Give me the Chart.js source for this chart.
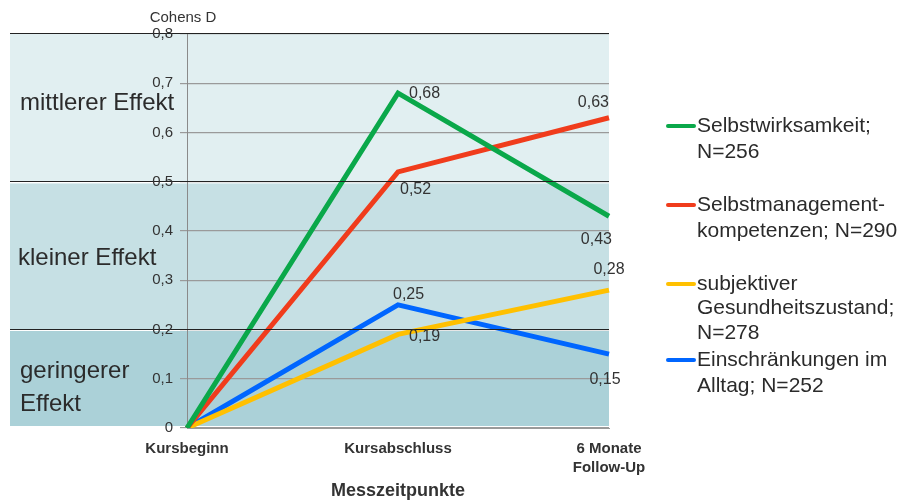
<!DOCTYPE html>
<html><head><meta charset="utf-8">
<script src="https://cdn.jsdelivr.net/npm/chart.js@4"></script>
<style>html,body{margin:0;padding:0;background:#fff;}canvas{display:block;}</style>
</head><body>
<canvas id="c" width="903" height="502"></canvas>
<script>
const categories = [["Kursbeginn"], ["Kursabschluss"], ["6 Monate", "Follow-Up"]];
const seriesNames = [["Selbstwirksamkeit;", "N=256"], ["Selbstmanagement-", "kompetenzen; N=290"], ["subjektiver", "Gesundheitszustand;", "N=278"], ["Einschränkungen im", "Alltag; N=252"]];
const selbstwirksamkeit = [0, 0.68, 0.43];
const selbstmanagement = [0, 0.52, 0.63];
const gesundheit = [0, 0.19, 0.28];
const einschraenkungen = [0, 0.25, 0.15];
const yTicks = [0, 0.1, 0.2, 0.3, 0.4, 0.5, 0.6, 0.7, 0.8];
const bands = [
  {from: 0.5, to: 0.8, label: ["mittlerer Effekt"]},
  {from: 0.2, to: 0.5, label: ["kleiner Effekt"]},
  {from: 0, to: 0.2, label: ["geringerer", "Effekt"]}
];
const colors = ["#0aa84a", "#f03c1c", "#ffc000", "#0066ff"];
const bandColors = ["#e1eff1", "#c6e0e4", "#abd1d8"];
const FONT = "'Liberation Sans', Arial, sans-serif";
const fmt = v => v === 0 ? "0" : v.toFixed(String(v).split(".")[1].length).replace(".", ",");

// label placement: [dx, dy, align]
const labelPlace = [
  [null, [11, 0, "left"], [3, 23, "right"]],
  [null, [2, 18, "left"], [0, -15, "right"]],
  [null, [11, 2, "left"], [0, -21, "center"]],
  [null, [-5, -10, "left"], [-4, 25, "center"]]
];

const bgPlugin = {
  id: "bg",
  beforeDraw(chart) {
    const ctx = chart.ctx, y = chart.scales.y, a = chart.chartArea;
    ctx.save();
    bands.forEach((b, i) => {
      const t = y.getPixelForValue(b.to), bt = y.getPixelForValue(b.from);
      ctx.fillStyle = bandColors[i];
      ctx.fillRect(10, t + (i ? 1.5 : 0), a.right - 10, bt - t - (i ? 1.5 : 0) - (i === 2 ? 2 : 0));
    });
    ctx.fillStyle = "#fff";
    [0.5, 0.2].forEach(v => { const p = y.getPixelForValue(v); ctx.fillRect(10, p, a.right - 10, 1.5); });
    ctx.restore();
  },
  afterDraw(chart) {
    const ctx = chart.ctx, y = chart.scales.y, a = chart.chartArea;
    ctx.save();
    ctx.strokeStyle = "#222"; ctx.lineWidth = 1.2;
    [0.8, 0.5, 0.2].forEach(v => {
      const p = Math.round(y.getPixelForValue(v)) - 0.5;
      ctx.beginPath(); ctx.moveTo(10, p); ctx.lineTo(a.right, p); ctx.stroke();
    });
    // band labels
    ctx.fillStyle = "#2b2b2b"; ctx.font = "24px " + FONT; ctx.textBaseline = "middle"; ctx.textAlign = "left";
    const lpos = [[20, 0.66], [18, 0.345], [20, 0.114]];
    bands.forEach((b, i) => {
      b.label.forEach((l, j) => ctx.fillText(l, lpos[i][0], y.getPixelForValue(lpos[i][1]) + j * 33));
    });
    // tick labels on top of band lines
    ctx.font = "15px " + FONT; ctx.textAlign = "right"; ctx.fillStyle = "#333";
    yTicks.forEach(v => ctx.fillText(fmt(v), 173, y.getPixelForValue(v)));
    // Cohens D
    ctx.font = "15px " + FONT; ctx.textAlign = "center"; ctx.fillStyle = "#333";
    ctx.fillText("Cohens D", 183, 18);
    // data labels
    ctx.font = "16px " + FONT;
    chart.data.datasets.forEach((ds, di) => {
      const meta = chart.getDatasetMeta(di);
      ds.data.forEach((v, k) => {
        const pl = labelPlace[di][k]; if (!pl) return;
        const pt = meta.data[k];
        ctx.textAlign = pl[2];
        ctx.fillText(fmt(v), pt.x + pl[0], pt.y + pl[1]);
      });
    });
    // legend
    const ly = [[126, 152], [205, 231], [284, 308, 333], [360, 386]];
    ctx.font = "21px " + FONT; ctx.textAlign = "left"; ctx.fillStyle = "#2b2b2b";
    seriesNames.forEach((lines, i) => {
      ctx.strokeStyle = colors[i]; ctx.lineWidth = 4; ctx.lineCap = "round";
      ctx.beginPath(); ctx.moveTo(668, ly[i][0]); ctx.lineTo(694, ly[i][0]); ctx.stroke();
      lines.forEach((l, j) => ctx.fillText(l, 697, ly[i][j]));
    });
    ctx.restore();
  }
};

new Chart(document.getElementById("c"), {
  type: "line",
  data: {
    labels: categories,
    datasets: [
      {data: selbstwirksamkeit, borderColor: colors[0]},
      {data: selbstmanagement, borderColor: colors[1]},
      {data: gesundheit, borderColor: colors[2]},
      {data: einschraenkungen, borderColor: colors[3]}
    ].map(d => Object.assign(d, {borderWidth: 5, pointRadius: 0, tension: 0, fill: false, borderJoinStyle: "miter", borderCapStyle: "butt"}))
  },
  options: {
    responsive: false, animation: false, devicePixelRatio: 1,
    layout: {padding: {top: 34, right: 294, left: 0, bottom: 0}},
    plugins: {legend: {display: false}, tooltip: {enabled: false}},
    scales: {
      x: {
        offset: false,
        grid: {display: false, drawTicks: false},
        border: {color: "#999", width: 1},
        ticks: {color: "#333", font: {family: FONT, size: 15, weight: "bold", lineHeight: 1.3}, padding: 11, maxRotation: 0, autoSkip: false},
        title: {display: true, text: "Messzeitpunkte", color: "#333", font: {family: FONT, size: 18, weight: "bold"}, padding: {top: 2, bottom: 0}},
        afterFit(s) { s.height = 74; }
      },
      y: {
        min: 0, max: 0.8,
        afterBuildTicks(s) { s.ticks = yTicks.map(v => ({value: v})); },
        grid: {color: "#9a9a9a", tickLength: 7, lineWidth: 1.2},
        border: {color: "#8a8a8a", width: 1},
        ticks: {display: true, color: "rgba(0,0,0,0)", padding: 7, font: {family: FONT, size: 15}, callback: v => fmt(v)},
        afterFit(s) { s.width = 187; }
      }
    }
  },
  plugins: [bgPlugin]
});
</script>
</body></html>
